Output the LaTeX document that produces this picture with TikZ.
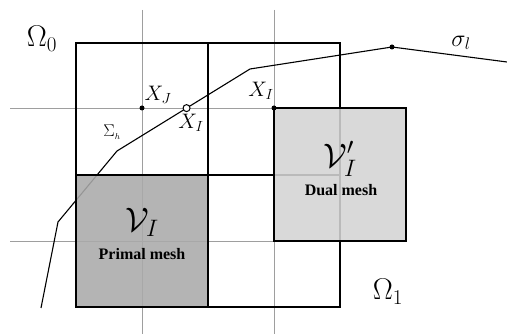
\RequirePackage{fix-cm}
\documentclass[tikz,border=0pt]{standalone}
\usepackage{amsmath, amssymb}
\usepackage{fontspec}
\newfontfamily\meshfont{Liberation Serif}
\usetikzlibrary{positioning, calc}
\definecolor{primalfill}{RGB}{170,170,170}
\definecolor{dualfill}{RGB}{212,212,212}

\begin{document}
\begin{tikzpicture}[x=1pt, y=-1pt,
        dualline/.style={draw=black!38, line width=0.9pt},
        gridline/.style={draw=black, line width=1.1pt},
        cellbox/.style={draw=black, line width=1.4pt, fill opacity=0.88},
        fracture/.style={draw=black, line width=1.1pt},
        vdot/.style={circle, fill=black, inner sep=0pt, minimum size=5pt},
        odot/.style={circle, draw=black, fill=white, line width=1pt, inner sep=0pt, minimum size=7pt},
        lbl/.style={inner sep=0pt, font=\fontsize{21}{25}\selectfont},
        meshname/.style={inner sep=0pt, font=\meshfont\fontsize{16}{19}\selectfont\bfseries},
      ]
      \useasboundingbox (0,0) rectangle (507,334);
      % dual grid
      \draw[dualline] (142,10) -- (142,334);
      \draw[dualline] (274,10) -- (274,334);
      \draw[dualline] (10,108) -- (274,108);
      \draw[dualline] (10,241) -- (274,241);
      % primal grid
      \draw[gridline] (76,43) rectangle (340,307);
      \draw[gridline] (208,43) -- (208,307);
      \draw[gridline] (76,175) -- (340,175);
      % fracture
      \coordinate (f0) at (41,308);
      \coordinate (f1) at (58,222);
      \coordinate (f2) at (117,151);
      \coordinate (f3) at (250,69);
      \coordinate (f4) at (392,47);
      \coordinate (f5) at (507,62);
      \draw[fracture] (f0) -- (f1) -- (f2) -- (f3) -- (f4) -- (f5);
      % control volumes
      \draw[cellbox, fill=primalfill] (76,175) rectangle (208,307);
      \draw[cellbox, fill=dualfill] (274,108) rectangle (406,241);
      % points
      \node[vdot] (xj) at (142,108) {};
      \node[vdot] (xi) at (274,108) {};
      \node[vdot] (sl) at (f4) {};
      \node[odot] (xl) at ($(f2)!0.523!(f3)$) {};
      % labels
      \node[lbl, font=\fontsize{30}{34}\selectfont] (om0) at (42,39) {$\Omega_0$};
      \node[lbl, font=\fontsize{30}{34}\selectfont] (om1) at (388,292) {$\Omega_1$};
      \node[lbl] (xjl) at (158,95) {$X_J$};
      \node[lbl] (xil) at (261,91) {$X_I$};
      \node[lbl] (xll) at (191,123) {$X_I$};
      \node[lbl, font=\fontsize{17}{20}\selectfont] (sig) at (112,132) {$\Sigma_{\scriptscriptstyle h}$};
      \node[lbl, font=\fontsize{24}{28}\selectfont] (sigl) at (461,43) {$\sigma_l$};
      \node[lbl, font=\fontsize{34}{40}\selectfont] (vi) at (142,222) {$\mathcal{V}_I$};
      \node[meshname] (pm) at (142,254) {Primal mesh};
      \node[lbl, font=\fontsize{34}{40}\selectfont] (vdi) at (340,159) {$\mathcal{V}'_I$};
      \node[meshname] (dm) at (341,190) {Dual mesh};
      \end{tikzpicture}
\end{document}
